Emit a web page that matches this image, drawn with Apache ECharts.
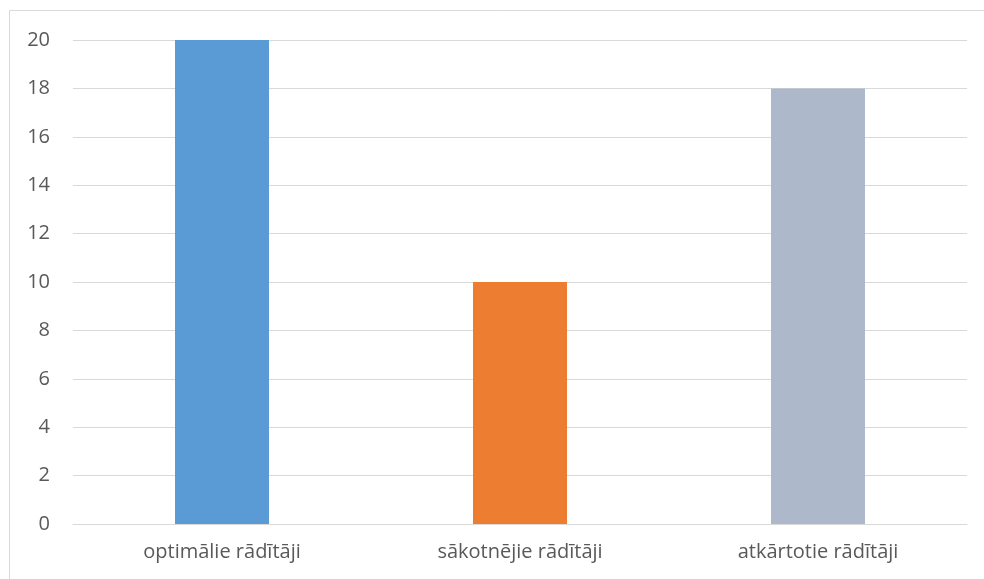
<!DOCTYPE html>
<html>
<head>
<meta charset="utf-8">
<script src="https://cdn.jsdelivr.net/npm/echarts@6/dist/echarts.min.js"></script>
<style>
  html, body { margin: 0; padding: 0; background: #fff; }
  #chart { width: 984px; height: 579px; }
</style>
</head>
<body>
<div id="chart"></div>
<script>
// Categories and their values
const categories = ['optimālie rādītāji', 'sākotnējie rādītāji', 'atkārtotie rādītāji'];
const values = [20, 10, 18];
const barColors = ['#5B9BD5', '#ED7D31', '#ADB9CA'];

const chart = echarts.init(document.getElementById('chart'));
const font = '"Open Sans", "Noto Sans", sans-serif';

chart.setOption({
  animation: false,
  backgroundColor: '#ffffff',
  graphic: [{
    type: 'rect',
    shape: { x: 9.5, y: 10.5, width: 990, height: 600 },
    style: { fill: 'none', stroke: '#d9d9d9', lineWidth: 1 },
    silent: true
  }],
  grid: { left: 73, right: 17, top: 40, bottom: 55 },
  xAxis: {
    type: 'category',
    data: categories,
    axisLine: { show: true, lineStyle: { color: '#d9d9d9', width: 1 } },
    axisTick: { show: false },
    axisLabel: { color: '#595959', fontSize: 20, fontFamily: font, margin: 18 }
  },
  yAxis: {
    type: 'value',
    min: 0,
    max: 20,
    interval: 2,
    axisLine: { show: false },
    axisTick: { show: false },
    splitLine: { lineStyle: { color: '#d9d9d9', width: 1 } },
    axisLabel: { color: '#595959', fontSize: 20, fontFamily: font, margin: 23 }
  },
  series: [{
    type: 'bar',
    barWidth: 94,
    data: values.map((v, i) => ({ value: v, itemStyle: { color: barColors[i] } }))
  }]
});
</script>
</body>
</html>
